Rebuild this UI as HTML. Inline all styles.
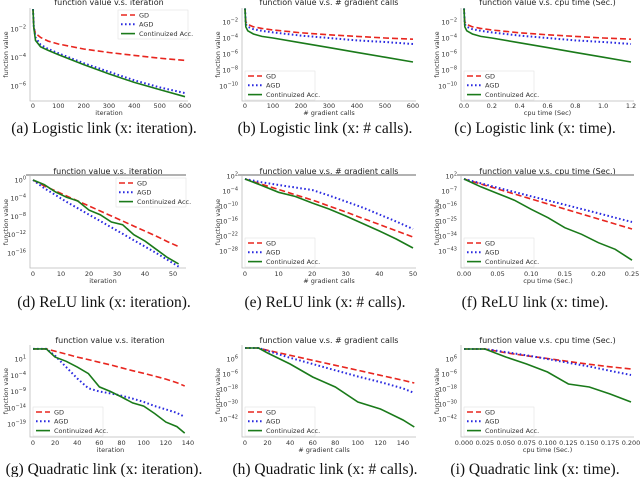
<!DOCTYPE html>
<html><head><meta charset="utf-8">
<style>
html,body{margin:0;padding:0;background:#fff;}
svg{display:block;font-family:"DejaVu Sans","Liberation Sans",sans-serif;}
.cap{font-family:"Liberation Serif",serif;font-size:15.5px;fill:#111;}
</style></head>
<body>
<svg id="fig" width="640" height="477" viewBox="0 0 640 477" xmlns="http://www.w3.org/2000/svg"></svg>
<script>
// ---------- data (log10 of function value) ----------
const aX = [0,3,10,30,60,100,200,300,400,500,600];
const aGD = [-0.6,-1.9,-2.3,-2.6,-2.85,-3.05,-3.4,-3.65,-3.85,-4.05,-4.2];
const aAGD = [-0.6,-1.8,-2.6,-3.1,-3.4,-3.7,-4.4,-5.0,-5.6,-6.1,-6.5];
const aCA = [-0.6,-1.9,-2.8,-3.25,-3.5,-3.8,-4.5,-5.15,-5.75,-6.25,-6.75];

const bX = [0,3,10,30,60,100,200,300,400,500,600];
const bGD = [-0.3,-2.0,-2.3,-2.6,-2.8,-3.0,-3.35,-3.6,-3.8,-4.0,-4.15];
const bAGD = [-0.3,-2.3,-2.6,-2.9,-3.1,-3.3,-3.7,-4.0,-4.3,-4.5,-4.75];
const bCA = [-0.3,-2.6,-3.1,-3.5,-3.8,-4.0,-4.6,-5.2,-5.8,-6.4,-7.0];

const cX = [0,0.006,0.02,0.06,0.12,0.2,0.4,0.6,0.8,1.0,1.2];
const cGD = [-0.3,-2.0,-2.3,-2.6,-2.8,-3.0,-3.35,-3.6,-3.8,-4.0,-4.15];
const cAGD = [-0.3,-2.3,-2.6,-2.9,-3.1,-3.3,-3.7,-4.0,-4.3,-4.5,-4.75];
const cCA = [-0.3,-2.6,-3.1,-3.5,-3.8,-4.0,-4.6,-5.2,-5.8,-6.4,-7.0];

const dX = [0,4,8,12,16,20,24,28,32,36,40,44,48,52];
const dGD = [0,-1.3,-2.4,-3.5,-4.6,-5.7,-6.8,-7.9,-9.0,-10.1,-11.2,-12.3,-13.5,-14.6];
const dAGD = [0,-1.8,-3.3,-4.8,-6.2,-7.6,-9.0,-10.4,-11.8,-13.2,-14.6,-16.0,-17.5,-19.0];
const dCA = [0,-1.0,-2.6,-3.8,-4.6,-6.6,-7.6,-9.2,-9.8,-12.0,-13.4,-15.2,-17.0,-18.4];

const eX = [0,5,10,15,20,25,30,35,40,45,50];
const eGD = [0.8,-1.3,-3.4,-5.5,-7.6,-10.0,-12.4,-14.9,-17.4,-19.9,-22.4];
const eAGD = [0.8,-0.5,-1.6,-2.6,-3.6,-5.8,-8.2,-10.6,-13.4,-16.2,-19.2];
const eCA = [0.8,-1.8,-4.5,-6.2,-8.8,-11.2,-14.0,-17.0,-20.0,-23.2,-26.8];

const fX = [0,0.025,0.05,0.075,0.1,0.125,0.15,0.175,0.2,0.225,0.25];
const fGD = [0.2,-2.8,-5.8,-8.8,-11.8,-14.8,-17.8,-20.8,-23.8,-26.8,-29.8];
const fAGD = [0.2,-2.4,-5.0,-7.6,-10.2,-12.7,-15.2,-17.8,-20.4,-23.0,-25.6];
const fCA = [0.2,-4.5,-8.5,-12.5,-18,-23,-29,-33,-38,-42,-48.5];

const gX = [0,12,20,30,40,50,60,70,80,90,100,110,120,130,137];
const gGD = [4.1,4.1,3.4,2.5,1.6,0.8,0,-0.8,-1.7,-2.6,-3.4,-4.3,-5.2,-6.3,-7.3];
const gAGD = [4.1,4.1,2.0,-1.5,-5.0,-8.0,-9.0,-9.6,-10.3,-11.2,-12.2,-13.5,-14.5,-15.6,-16.8];
const gCA = [4.1,4.1,1.6,0.3,-1.5,-3.5,-7.6,-9.0,-10.7,-12.5,-13.5,-15.8,-18.4,-19.8,-21.8];

const hX = [0,12,20,40,60,80,100,120,140,150];
const hGD = [14.8,14.8,13.0,9.0,5.0,1.0,-3.0,-7.0,-11.0,-13.2];
const hAGD = [14.8,14.8,12.5,7.0,2.0,-3.0,-8.0,-12.5,-17.5,-21.2];
const hCA = [14.8,14.8,10.8,2,-8.4,-16.4,-28.4,-34,-42.8,-48.4];

const iX = [0,0.025,0.05,0.075,0.1,0.125,0.15,0.175,0.2];
const iGD = [14,14,11,8.6,6.4,4.0,1.8,-0.2,-2];
const iAGD = [14,14,11.5,9,6,3,0,-3.4,-6.8];
const iCA = [14,14,7.6,2,-4.4,-14,-16.4,-22,-28.4];

// tick labels
const xtA = [0,100,200,300,400,500,600];
const xtD = [0,10,20,30,40,50];
const xtG = [0,20,40,60,80,100,120,140];
const xtC = [0,0.2,0.4,0.6,0.8,1.0,1.2];
const xtF = [0,0.05,0.10,0.15,0.20,0.25];
const xtI = [0,0.025,0.05,0.075,0.1,0.125,0.15,0.175,0.2];
const ytA = [-2,-4,-6];
const ytB = [-2,-4,-6,-8,-10];
const ytD = [0,-4,-8,-12,-16];
const ytE = [2,-4,-10,-16,-22,-28];
const ytF = [2,-7,-16,-25,-34,-43];
const ytG = [1,-4,-9,-14,-19];
const ytH = [6,-6,-18,-30,-42];

// ---------- layout ----------
const panels = [
 {id:'a',x:aX,s:[aGD,aAGD,aCA],L:30,R:188,T:8,B:101,x0:33,x1:185,xmin:0,xmax:600,ty0:29,tv0:-2,ppd:14.25,xt:xtA,yt:ytA,dec:0,title:'function value v.s. iteration',xl:'iteration',leg:'ur',cap:'(a) Logistic link (x: iteration).',cx:104,row:0},
 {id:'b',x:bX,s:[bGD,bAGD,bCA],L:242,R:416,T:8,B:101,x0:245,x1:413,xmin:0,xmax:600,ty0:22,tv0:-2,ppd:8,xt:xtA,yt:ytB,dec:0,title:'function value v.s. # gradient calls',xl:'# gradient calls',leg:'ll',cap:'(b) Logistic link (x: # calls).',cx:325,row:0},
 {id:'c',x:cX,s:[cGD,cAGD,cCA],L:461,R:634,T:8,B:101,x0:464,x1:631,xmin:0,xmax:1.2,ty0:22,tv0:-2,ppd:8,xt:xtC,yt:ytB,dec:1,title:'function value v.s. cpu time (Sec.)',xl:'cpu time (Sec)',leg:'ll',cap:'(c) Logistic link (x: time).',cx:535,row:0},
 {id:'d',x:dX,s:[dGD,dAGD,dCA],L:30,R:186,T:176,B:268,x0:33,x1:173,xmin:0,xmax:50,ty0:180,tv0:0,ppd:4.56,xt:xtD,yt:ytD,dec:0,title:'function value v.s. iteration',xl:'iteration',leg:'ur',cap:'(d) ReLU link (x: iteration).',cx:104,row:1},
 {id:'e',x:eX,s:[eGD,eAGD,eCA],L:242,R:416,T:176,B:268,x0:245,x1:413,xmin:0,xmax:50,ty0:176,tv0:2,ppd:2.5,xt:xtD,yt:ytE,dec:0,title:'function value v.s. # gradient calls',xl:'# gradient calls',leg:'ll',cap:'(e) ReLU link (x: # calls).',cx:325,row:1},
 {id:'f',x:fX,s:[fGD,fAGD,fCA],L:461,R:634,T:176,B:268,x0:464,x1:632,xmin:0,xmax:0.25,ty0:176,tv0:2,ppd:1.667,xt:xtF,yt:ytF,dec:2,title:'function value v.s. cpu time (Sec.)',xl:'cpu time (Sec.)',leg:'ll',cap:'(f) ReLU link (x: time).',cx:535,row:1},
 {id:'g',x:gX,s:[gGD,gAGD,gCA],L:30,R:190,T:345,B:437,x0:33,x1:188,xmin:0,xmax:140,ty0:359,tv0:1,ppd:3.25,xt:xtG,yt:ytG,dec:0,title:'function value v.s. iteration',xl:'iteration',leg:'ll',cap:'(g) Quadratic link (x: iteration).',cx:104,row:2},
 {id:'h',x:hX,s:[hGD,hAGD,hCA],L:242,R:416,T:345,B:437,x0:245,x1:403,xmin:0,xmax:140,ty0:359,tv0:6,ppd:1.25,xt:xtG,yt:ytH,dec:0,title:'function value v.s. # gradient calls',xl:'# gradient calls',leg:'ll',cap:'(h) Quadratic link (x: # calls).',cx:325,row:2},
 {id:'i',x:iX,s:[iGD,iAGD,iCA],L:461,R:634,T:345,B:437,x0:464,x1:631,xmin:0,xmax:0.2,ty0:359,tv0:6,ppd:1.25,xt:xtI,yt:ytH,dec:3,title:'function value v.s. cpu time (Sec.)',xl:'cpu time (Sec.)',leg:'ll',cap:'(i) Quadratic link (x: time).',cx:535,row:2}
];
const rowTitleY=[5,174,343], rowTickY=[108,276,445], rowXlY=[115,283,452], rowCapY=[133,307,474];
const names=['GD','AGD','Continuized Acc.'];
const colors=['#e8261f','#2a2ae0','#1a7a1a'];
const dashes=['6,3','1.6,2.4',''];
const widths=[1.6,2,1.6];
const NS='http://www.w3.org/2000/svg';
const svg=document.getElementById('fig');
function mk(tag,attrs,parent){const e=document.createElementNS(NS,tag);for(const k in attrs)e.setAttribute(k,attrs[k]);(parent||svg).appendChild(e);return e;}
function sup(t,base,exp){const b=document.createElementNS(NS,'tspan');b.textContent=base;t.appendChild(b);const s=document.createElementNS(NS,'tspan');s.setAttribute('dy','-3');s.setAttribute('font-size','5');s.textContent=exp;t.appendChild(s);}

panels.forEach(p=>{
  const g=mk('g',{});
  
  
  const xs=v=>p.x0+(v-p.xmin)/(p.xmax-p.xmin)*(p.x1-p.x0);
  const ys=v=>p.ty0+(p.tv0-v)*p.ppd;
  const r=p.row;
  const t=mk('text',{x:(p.L+p.R)/2,y:rowTitleY[r],'text-anchor':'middle','font-size':'8',fill:'#222'},g);
  t.textContent=p.title;
  
  
  if(r===1){const tl=mk('line',{x1:p.L-4,x2:p.R,y1:p.T-1,y2:p.T-1,stroke:'#999','stroke-width':1.5},g);
    }
  const ax=mk('path',{d:`M${p.L},${p.T} V${p.B} H${p.R}`,fill:'none',stroke:'#bbb','stroke-width':0.8},g);
  
  
  p.xt.forEach(v=>{
    const tx=mk('text',{x:xs(v),y:rowTickY[r],'text-anchor':'middle','font-size':'6.5',fill:'#333'},g);
    tx.textContent=v.toFixed(p.dec);
    
    
  });
  const xl=mk('text',{x:(p.x0+p.x1)/2,y:rowXlY[r],'text-anchor':'middle','font-size':'6.5',fill:'#333'},g);
  xl.textContent=p.xl;
  
  
  p.yt.forEach(v=>{
    const y=ys(v);
    if(y<p.T-2||y>p.B+2)return;
    const ty=mk('text',{x:p.L-4,y:y+2.5,'text-anchor':'end','font-size':'6.5',fill:'#333'},g);
    sup(ty,'10',String(v).replace('-','\u2212'));
    
    
  });
  const yl=mk('text',{x:0,y:0,'text-anchor':'middle','font-size':'6.5',fill:'#333',transform:`translate(${p.L-22},${(p.T+p.B)/2}) rotate(-90)`},g);
  yl.textContent='function value';
  
  
  const cp=mk('clipPath',{id:'clip'+p.id},g);
  mk('rect',{x:p.L,y:p.T,width:p.R-p.L,height:p.B-p.T},cp);
  p.s.forEach((arr,k)=>{
    const d=arr.map((v,j)=>(j?'L':'M')+xs(p.x[j]).toFixed(1)+','+ys(v).toFixed(1)).join(' ');
    const ln=mk('path',{d:d,fill:'none',stroke:colors[k],'stroke-width':widths[k],'stroke-dasharray':dashes[k],'clip-path':`url(#clip${p.id})`},g);
    
    
  });
  let lx,ly;
  if(p.leg==='ur'){lx=p.R-70;ly=p.T+2;}else{lx=p.L+3;ly=p.B-30;}
  const lg=mk('g',{},g);
  
  
  mk('rect',{x:lx,y:ly,width:70,height:29,fill:'#fff',stroke:'#ddd','stroke-width':0.5,'fill-opacity':0.9},lg);
  names.forEach((n,k)=>{
    const yy=ly+5+k*9.3;
    mk('line',{x1:lx+3,x2:lx+17,y1:yy,y2:yy,stroke:colors[k],'stroke-width':widths[k],'stroke-dasharray':dashes[k]},lg);
    const lt=mk('text',{x:lx+21,y:yy+2.3,'font-size':'6.5',fill:'#333'},lg);
    lt.textContent=n;
    
    
  });
  const c=mk('text',{x:p.cx,y:rowCapY[r],'text-anchor':'middle',class:'cap'},g);
  c.textContent=p.cap;
  
  
});
</script>
</body></html>
